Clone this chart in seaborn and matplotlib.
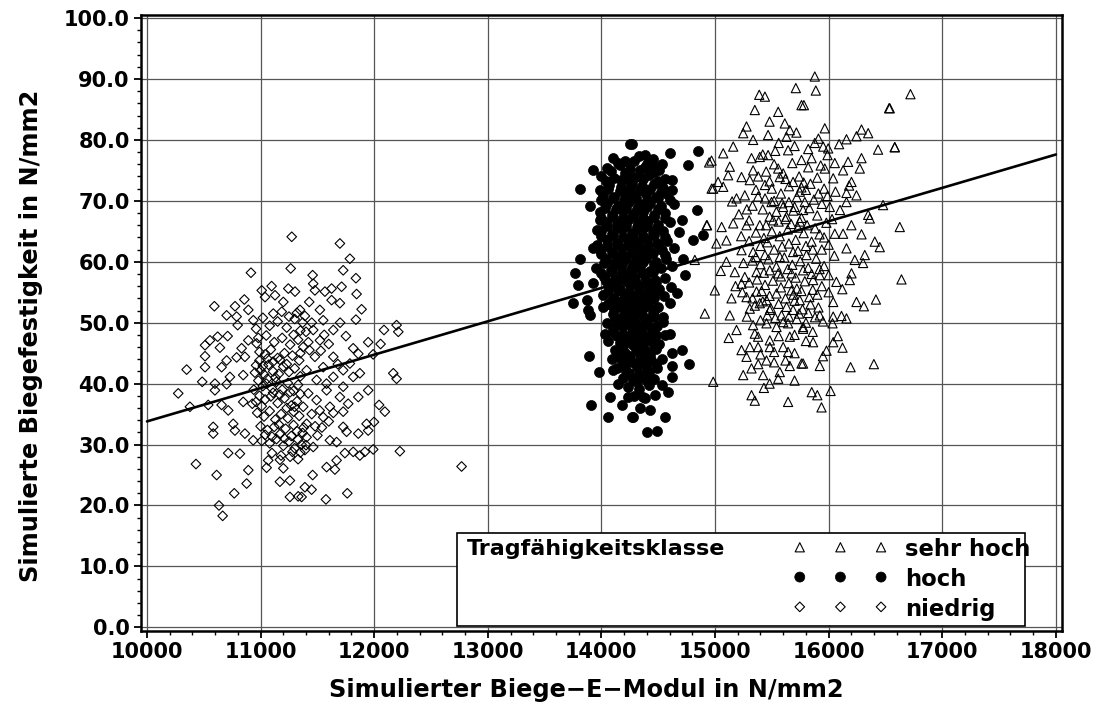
import matplotlib
matplotlib.use("Agg")
import matplotlib.pyplot as plt
from matplotlib.patches import Rectangle
from matplotlib.ticker import MultipleLocator, FormatStrFormatter
import seaborn as sns
import pandas as pd

# Simulated (E-modulus, bending strength) pairs per load class, N/mm2
niedrig_pts = [
    (11274, 64.1), (11265, 58.9), (10915, 58.2), (11097, 56.0), (11010, 55.3), (11244, 55.6), (11303, 55.1),
    (10593, 52.7), (10775, 52.7), (10857, 53.8), (10701, 51.2), (10892, 52.1), (10789, 51.0), (11039, 54.2),
    (11127, 54.5), (11200, 53.4), (11112, 51.5), (11186, 51.8), (10936, 50.4), (10798, 49.6), (11347, 52.1),
    (10511, 46.3), (10554, 47.1), (10622, 47.7), (10710, 47.8), (10642, 45.9), (10511, 44.5), (10511, 42.7),
    (10349, 42.3), (10657, 42.7), (10701, 43.8), (10789, 44.3), (10862, 44.4), (10833, 45.8), (10892, 47.1),
    (10965, 46.6), (10730, 41.1), (10847, 41.4), (10486, 40.3), (10598, 40.0), (10701, 39.9), (10275, 38.4),
    (10598, 38.9), (10378, 36.2), (10539, 36.5), (10657, 36.5), (10715, 35.6), (10847, 37.0), (10927, 36.7),
    (10583, 32.9), (10583, 31.8), (10759, 33.4), (10774, 32.3), (10862, 31.8), (10935, 30.7), (10715, 28.6),
    (10818, 28.5), (10431, 26.8), (10613, 25.0), (10892, 25.8), (10877, 23.6), (10768, 22.0), (10634, 20.0),
    (10666, 18.3), (11053, 26.2), (11067, 27.4), (11170, 27.5), (11200, 26.1), (11258, 24.1), (11258, 21.4),
    (11331, 21.5), (11170, 23.9),
    (11698, 63.0), (11786, 60.5), (11727, 58.6), (11458, 57.8), (11839, 57.3), (11713, 55.9), (11625, 55.6),
    (11845, 54.7), (11889, 52.2), (11839, 50.5), (12197, 49.6), (12212, 48.5), (12086, 48.8), (11947, 46.8),
    (12056, 46.5), (11991, 44.8), (12168, 41.7), (12197, 40.8), (11874, 41.7), (11947, 38.9), (12043, 36.5),
    (12094, 35.4), (11998, 33.7), (11933, 33.4), (11947, 32.3), (11860, 31.8), (11991, 29.2), (12226, 28.9),
    (12769, 26.4), (11918, 28.8), (11874, 28.2), (11815, 28.8), (11742, 28.6), (11669, 27.4), (11581, 26.3),
    (11654, 25.9), (11458, 25.0), (11390, 23.0), (11449, 22.6), (11763, 22.0), (11575, 21.0), (11361, 21.4),
    (11463, 56.4), (11478, 55.3), (11566, 55.1), (11625, 53.7), (11698, 53.2), (11428, 53.4), (11522, 52.1),
    (11390, 51.1), (11551, 50.4), (11463, 48.8), (11640, 48.8), (11751, 47.8), (11522, 47.1), (11815, 45.8),
    (11860, 44.9), (11375, 46.0), (11478, 44.4), (11640, 44.4), (11786, 43.3), (11551, 42.7), (11727, 42.2),
    (11405, 42.2), (11815, 41.1), (11640, 41.1), (11493, 40.6), (11727, 39.5), (11581, 38.9), (11419, 38.4),
    (11860, 37.8), (11698, 37.8), (11493, 37.3), (11771, 36.7), (11610, 36.2), (11375, 36.2), (11727, 35.4),
    (11551, 34.5), (11405, 33.4), (11727, 32.9), (11757, 32.1), (11610, 30.7), (11669, 30.4), (11405, 31.2),
    (11463, 29.6), (11390, 29.1),
    (10960, 49.0), (11020, 50.8), (11080, 49.5), (11150, 50.2), (11230, 49.2), (11300, 50.6), (11350, 48.7),
    (10980, 47.5), (11050, 47.9), (11120, 46.8), (11190, 47.5), (11260, 46.4), (11330, 47.2),
    (10990, 45.2), (11040, 44.8), (11090, 45.6), (11150, 44.2), (11210, 45.0), (11280, 44.6), (11340, 43.8),
    (10960, 43.0), (11000, 42.2), (11030, 41.5), (11070, 43.1), (11110, 42.0), (11160, 41.6), (11200, 42.8),
    (11250, 41.9), (11300, 42.5), (11350, 41.2),
    (10980, 40.5), (11020, 39.6), (11060, 40.8), (11100, 39.2), (11140, 40.3), (11190, 39.0), (11240, 40.1),
    (11290, 38.8), (11330, 39.8),
    (10990, 38.0), (11040, 37.4), (11090, 37.9), (11150, 36.8), (11210, 37.6), (11270, 36.4), (11320, 37.1),
    (10970, 35.2), (11030, 34.6), (11080, 35.5), (11130, 34.1), (11180, 35.0), (11240, 34.3), (11290, 35.4),
    (11340, 34.7),
    (11000, 33.0), (11060, 32.4), (11120, 32.9), (11170, 31.7), (11220, 32.6), (11270, 31.4), (11320, 32.2),
    (11370, 31.9),
    (11010, 30.6), (11080, 30.2), (11140, 30.9), (11200, 29.8), (11250, 30.5), (11300, 29.4), (11360, 30.0),
    (11100, 28.6), (11180, 28.2), (11280, 28.8), (11330, 27.6),
    (10950, 41.8), (10990, 43.8), (11020, 42.9), (11050, 40.0), (11060, 44.1), (11110, 43.6), (11130, 41.0),
    (11170, 43.9), (11230, 43.2), (11260, 38.6), (10940, 39.0), (10960, 37.0), (11010, 36.3), (11110, 38.5),
    (11170, 38.2), (11230, 36.0), (11300, 36.2), (11350, 38.3), (11290, 33.2), (11330, 30.8), (11380, 32.8),
    (11400, 29.9), (11350, 28.7), (11260, 28.0), (11210, 31.0), (11160, 33.3), (11100, 31.3), (11040, 31.6),
    (11250, 51.0), (11290, 48.0), (11320, 51.6), (11370, 50.0), (11400, 48.5), (11420, 46.8), (11350, 45.0),
    (11430, 45.5), (11450, 50.0), (11480, 33.0), (11520, 35.6), (11500, 31.5), (11540, 32.8), (11450, 35.0),
    (11600, 33.8), (11640, 35.2), (11580, 40.0), (11680, 43.2), (11530, 45.4), (11600, 46.5), (11700, 50.0),
    (11560, 48.0),
]

hoch_pts = [
    (14250, 79.4), (13928, 75.0), (13810, 71.9), (13986, 71.8), (13898, 69.1), (13986, 66.8), (13957, 65.2),
    (13928, 62.2), (13810, 60.5), (13766, 58.2), (13795, 56.2), (13928, 56.5), (13751, 53.2), (13869, 53.8),
    (13884, 52.1), (14016, 52.6), (13898, 51.2), (14030, 48.2), (13892, 44.5), (13980, 41.9), (14089, 44.1),
    (14103, 42.2), (14148, 40.0), (14074, 37.8), (13904, 36.5), (14177, 36.5), (14060, 34.6), (14265, 34.5),
    (14236, 37.8),
    (14265, 79.4), (14382, 77.5), (14602, 77.9), (14851, 78.2), (14763, 75.9), (14529, 76.1), (14441, 76.1),
    (14617, 73.4), (14617, 71.8), (14837, 68.5), (14705, 66.8), (14807, 63.5), (14895, 64.4), (14720, 60.5),
    (14734, 57.8), (14661, 54.8), (14602, 53.2), (14543, 50.1), (14602, 48.2), (14705, 45.5), (14772, 43.3),
    (14617, 42.9), (14617, 41.1), (14529, 39.7), (14588, 38.6), (14367, 37.8), (14558, 34.5), (14279, 34.5),
    (14397, 32.1), (14485, 32.3),
    (14100, 77.1), (14210, 76.6), (14330, 77.3), (14455, 76.8),
    (14050, 75.4), (14160, 75.8), (14255, 75.2), (14380, 75.6), (14505, 75.0),
    (14000, 74.1), (14115, 73.7), (14225, 74.3), (14305, 73.9), (14420, 74.2), (14560, 73.6),
    (14065, 72.6), (14170, 72.2), (14265, 72.8), (14355, 72.4), (14460, 72.7), (14540, 72.1),
    (14010, 71.0), (14110, 70.6), (14215, 71.3), (14290, 70.8), (14390, 71.2), (14480, 70.7), (14575, 71.1),
    (14050, 69.6), (14150, 69.2), (14240, 69.8), (14335, 69.4), (14430, 69.7), (14520, 69.1), (14640, 69.5),
    (13990, 68.1), (14090, 67.7), (14190, 68.3), (14280, 67.9), (14370, 68.2), (14465, 67.6), (14560, 68.0),
    (14040, 66.6), (14140, 66.2), (14230, 66.8), (14320, 66.4), (14410, 66.7), (14500, 66.1), (14600, 66.5),
    (14000, 65.0), (14090, 64.6), (14180, 65.3), (14270, 64.8), (14360, 65.2), (14450, 64.7), (14540, 65.1),
    (14680, 64.9),
    (14050, 63.5), (14140, 63.1), (14230, 63.7), (14310, 63.3), (14400, 63.6), (14490, 63.0), (14580, 63.4),
    (13990, 62.0), (14090, 61.6), (14180, 62.2), (14270, 61.8), (14350, 62.1), (14440, 61.5), (14530, 61.9),
    (14640, 62.3),
    (14040, 60.5), (14130, 60.1), (14220, 60.7), (14300, 60.3), (14390, 60.6), (14480, 60.0), (14570, 60.4),
    (13950, 59.0), (14080, 58.6), (14170, 59.2), (14260, 58.8), (14340, 59.1), (14430, 58.5), (14520, 58.9),
    (14620, 59.3),
    (14020, 57.5), (14120, 57.1), (14210, 57.7), (14290, 57.3), (14380, 57.6), (14470, 57.0), (14560, 57.4),
    (14070, 56.0), (14160, 55.6), (14250, 56.2), (14330, 55.8), (14420, 56.1), (14510, 55.5), (14610, 55.9),
    (14010, 54.5), (14110, 54.1), (14200, 54.7), (14280, 54.3), (14370, 54.6), (14460, 54.0), (14550, 54.4),
    (14060, 53.0), (14150, 52.6), (14240, 53.2), (14320, 52.8), (14410, 53.1), (14500, 52.5),
    (14100, 51.5), (14190, 51.1), (14270, 51.7), (14360, 51.3), (14450, 51.6), (14540, 51.0),
    (14050, 50.0), (14150, 49.6), (14230, 50.2), (14310, 49.8), (14400, 50.1), (14490, 49.5),
    (14100, 48.5), (14190, 48.1), (14280, 48.7), (14360, 48.3), (14450, 48.6), (14560, 48.0),
    (14060, 47.0), (14160, 46.6), (14240, 47.2), (14330, 46.8), (14420, 47.1), (14510, 46.5),
    (14120, 45.5), (14210, 45.1), (14300, 45.7), (14390, 45.3), (14480, 45.6), (14620, 45.0),
    (14170, 44.0), (14260, 43.6), (14350, 44.2), (14440, 43.8), (14530, 44.1),
    (14140, 42.5), (14220, 42.1), (14310, 42.7), (14400, 42.3), (14490, 42.6),
    (14190, 41.0), (14280, 40.6), (14370, 41.2), (14460, 40.8),
    (14230, 39.5), (14330, 39.1), (14420, 39.7),
    (14290, 38.0), (14380, 37.6), (14470, 38.2),
    (14340, 36.0), (14430, 35.6),
    (14150, 76.2), (14285, 76.5), (14400, 76.1),
    (14080, 74.9), (14205, 74.6), (14340, 75.0), (14460, 74.7),
    (14040, 73.2), (14170, 73.4), (14255, 73.1), (14370, 73.5), (14500, 73.2),
    (14060, 71.9), (14160, 71.6), (14250, 72.0), (14340, 71.7), (14430, 71.9), (14520, 71.5),
    (14000, 70.2), (14100, 70.4), (14200, 70.1), (14300, 70.5), (14400, 70.2), (14500, 70.4), (14600, 70.1),
    (14030, 68.8), (14130, 68.6), (14220, 68.9), (14310, 68.7), (14400, 69.0), (14500, 68.6),
    (14000, 67.2), (14100, 67.4), (14190, 67.1), (14280, 67.5), (14370, 67.2), (14460, 67.4), (14560, 67.1),
    (14050, 65.9), (14140, 65.6), (14220, 65.8), (14310, 65.7), (14400, 65.9), (14490, 65.6),
    (14000, 64.2), (14100, 64.4), (14190, 64.1), (14280, 64.5), (14370, 64.2), (14460, 64.4), (14560, 64.1),
    (13960, 62.8), (14050, 62.6), (14140, 62.9), (14230, 62.7), (14320, 62.9), (14410, 62.6), (14500, 62.8),
    (14000, 61.2), (14100, 61.4), (14180, 61.1), (14270, 61.5), (14360, 61.2), (14450, 61.4), (14560, 61.1),
    (14020, 59.8), (14110, 59.6), (14190, 59.9), (14280, 59.7), (14370, 59.9), (14460, 59.6),
    (14000, 58.2), (14090, 58.4), (14180, 58.1), (14270, 58.5), (14360, 58.2), (14450, 58.4),
    (14040, 56.8), (14140, 56.6), (14220, 56.9), (14300, 56.7), (14390, 56.9), (14480, 56.6),
    (14060, 55.2), (14150, 55.4), (14240, 55.1), (14330, 55.5), (14420, 55.2), (14500, 55.4),
    (14090, 53.8), (14180, 53.6), (14270, 53.9), (14350, 53.7), (14440, 53.9),
    (14110, 52.2), (14200, 52.4), (14290, 52.1), (14380, 52.5), (14470, 52.2),
    (14120, 50.8), (14210, 50.6), (14290, 50.9), (14380, 50.7), (14460, 50.9),
    (14100, 49.2), (14190, 49.4), (14270, 49.1), (14360, 49.5), (14440, 49.2),
    (14140, 47.8), (14230, 47.6), (14310, 47.9), (14400, 47.7), (14480, 47.9),
    (14190, 46.2), (14280, 46.4), (14370, 46.1), (14460, 46.4),
    (14160, 44.8), (14250, 44.6), (14340, 44.9), (14430, 44.7),
    (14210, 43.2), (14300, 43.4), (14390, 43.1), (14480, 43.3),
    (14240, 41.8), (14330, 41.6), (14420, 41.9),
    (14310, 40.2), (14400, 40.4),
]

sehr_hoch_pts = [
    (15389, 87.4), (15439, 87.1), (15711, 88.5), (15761, 85.7), (15556, 84.6), (15614, 82.7), (15277, 82.2),
    (15248, 81.1), (15467, 80.8), (15658, 81.6), (15716, 81.2), (15335, 80.0), (15629, 80.5), (15160, 78.9),
    (15072, 77.8), (14969, 76.6), (15321, 77.0), (15394, 77.2), (15467, 77.5), (15643, 78.3), (15761, 76.7),
    (15130, 75.6), (15233, 73.9), (15115, 74.2), (15027, 73.1), (14984, 72.0), (15072, 72.3), (15556, 75.3),
    (15335, 75.0), (15306, 73.4), (15439, 72.6), (15570, 73.9), (15687, 73.1), (15746, 71.5), (15189, 70.4),
    (15262, 70.9), (15379, 70.7), (15497, 69.8), (15599, 69.0), (15775, 68.5), (14926, 66.0), (15058, 65.7),
    (15160, 66.3), (15277, 66.0), (15394, 66.0), (15511, 66.8), (15629, 67.4), (15746, 66.6), (15012, 63.0),
    (15100, 63.5), (15233, 61.9), (15335, 61.6), (15439, 61.1), (15570, 60.8), (15687, 61.6), (15805, 61.1),
    (15174, 58.3), (15262, 57.5), (15365, 58.3), (15482, 58.6), (15556, 58.1), (15673, 58.1), (15775, 58.6),
    (14998, 55.3), (15145, 54.0), (15233, 56.4), (15277, 54.2), (15365, 55.1), (15453, 53.7), (15541, 54.8),
    (15673, 55.3), (15746, 53.7), (14910, 51.5), (15130, 51.2), (15306, 52.3), (15394, 53.2), (15482, 52.1),
    (15585, 51.2), (15687, 52.1), (15189, 48.8), (15335, 49.6), (15453, 49.9), (15541, 49.3), (15643, 49.9),
    (15775, 49.0), (15379, 47.7), (15482, 47.1), (15658, 47.7), (15233, 45.5), (15306, 46.0), (15379, 46.0),
    (15482, 46.0), (15643, 45.2), (15277, 44.4), (15453, 43.8), (15761, 43.3), (15658, 42.9), (15321, 42.5),
    (15248, 41.4), (15423, 41.4), (15570, 41.9), (15556, 40.8), (14984, 40.3), (15321, 38.1), (15643, 37.0),
    (15878, 90.4), (15887, 88.1), (15782, 85.7), (16532, 85.2), (15966, 81.9), (16289, 81.7), (16348, 81.1),
    (16245, 80.6), (16157, 80.1), (16092, 79.3), (15878, 79.5), (15952, 78.9), (15996, 78.6), (16435, 78.4),
    (16582, 78.8), (16289, 77.0), (16171, 76.4), (16054, 76.2), (16274, 75.3), (16127, 75.0), (15966, 75.3),
    (16201, 73.1), (16040, 73.7), (16157, 71.3), (16245, 70.9), (16157, 69.8), (16010, 69.0), (16479, 69.3),
    (16626, 65.7), (16348, 67.7), (16362, 67.1), (16054, 64.6), (16127, 64.6), (16289, 64.5), (16406, 63.3),
    (16450, 62.4), (16157, 62.2), (16230, 60.3), (16303, 59.8), (16318, 61.1), (16201, 58.1), (16068, 56.7),
    (16186, 57.0), (15922, 57.8), (15863, 57.0), (16245, 53.4), (16310, 52.7), (16416, 53.8), (16040, 53.4),
    (15922, 51.2), (16040, 51.0), (16113, 51.1), (16157, 50.7), (16034, 49.9), (15775, 49.3), (15863, 46.8),
    (16040, 46.8), (16122, 45.9), (15981, 45.4), (15775, 43.3), (15922, 42.9), (16193, 42.7), (16398, 43.2),
    (15851, 38.6), (15900, 38.1), (16017, 38.8), (15937, 36.1),
    (16720, 87.5), (16538, 85.2), (16582, 78.8), (16641, 57.1),
    (14948, 76.3), (14970, 72.0), (14930, 66.0), (14822, 60.3),
    (15520, 76.0), (15600, 74.5), (15680, 76.2), (15740, 74.0), (15820, 75.5), (15900, 73.8), (15960, 72.0),
    (15500, 72.0), (15580, 71.2), (15650, 72.4), (15720, 70.6), (15800, 71.8), (15870, 70.2), (15940, 69.5),
    (15420, 68.6), (15480, 67.4), (15540, 68.2), (15620, 67.0), (15690, 68.4), (15760, 67.2), (15830, 68.8),
    (15900, 67.6), (15980, 66.4),
    (15360, 64.8), (15430, 63.9), (15500, 65.0), (15570, 64.2), (15640, 65.3), (15710, 63.6), (15780, 64.7),
    (15850, 63.3), (15920, 64.5), (16000, 62.8),
    (15330, 60.2), (15400, 59.6), (15470, 60.4), (15540, 59.2), (15610, 60.7), (15680, 59.5), (15750, 60.1),
    (15820, 59.0), (15890, 60.5), (15960, 59.3),
    (15300, 56.6), (15370, 57.1), (15440, 56.2), (15510, 56.9), (15580, 55.8), (15650, 56.5), (15720, 55.6),
    (15790, 56.8), (15860, 55.4), (15940, 56.0),
    (15350, 52.8), (15420, 53.5), (15490, 52.4), (15560, 53.1), (15630, 52.6), (15700, 53.6), (15770, 52.2),
    (15840, 53.0), (15910, 52.5),
    (15400, 50.4), (15530, 50.8), (15600, 50.1), (15720, 50.6), (15800, 50.0), (15880, 50.9),
    (15460, 63.2), (15590, 62.5), (15730, 61.8), (15860, 62.0), (15520, 70.0), (15650, 69.8), (15780, 73.0),
    (15450, 74.8), (15360, 71.8), (15280, 68.6), (15210, 67.8), (15150, 69.9), (15230, 64.2), (15100, 60.0),
    (15180, 56.0), (15050, 58.5), (15120, 47.5), (15400, 44.8), (15520, 43.5), (15700, 45.0), (15860, 48.5),
    (15950, 44.5), (16080, 47.8), (16120, 55.5), (16200, 66.0), (16100, 68.5), (16060, 71.5), (16180, 72.5),
    (15990, 77.5), (15910, 80.2), (15820, 78.5), (15560, 79.5), (15480, 83.0), (15350, 84.9),
    (15420, 77.6), (15530, 78.2), (15700, 79.0), (15850, 77.0), (15930, 75.8),
    (15380, 74.0), (15480, 73.2), (15620, 73.6), (15760, 72.2), (15840, 72.8), (15990, 70.8),
    (15330, 69.2), (15440, 70.4), (15590, 69.6), (15700, 69.0), (15790, 69.8), (15910, 71.2), (16030, 67.0),
    (15300, 66.8), (15450, 66.0), (15560, 66.6), (15670, 66.2), (15730, 65.6), (15810, 66.0), (15880, 65.5),
    (15960, 64.0),
    (15300, 63.4), (15400, 62.6), (15520, 62.0), (15650, 63.0), (15800, 62.6), (15940, 62.0), (16050, 61.0),
    (15250, 59.8), (15360, 60.8), (15430, 58.2), (15580, 57.6), (15640, 58.8), (15710, 57.4), (15850, 58.0),
    (15920, 58.8), (16000, 57.8),
    (15240, 55.0), (15330, 54.0), (15410, 55.2), (15480, 54.4), (15620, 54.0), (15690, 54.6), (15760, 55.2),
    (15830, 54.2), (15900, 54.6), (16000, 55.0),
    (15280, 51.0), (15460, 51.2), (15650, 51.0), (15740, 51.5), (15820, 51.6), (15950, 50.2),
    (15350, 48.2), (15560, 47.8), (15700, 48.0), (15800, 47.0), (15600, 46.0), (15520, 45.2), (15380, 43.2),
    (15620, 43.8), (15480, 40.0), (15700, 40.5), (15350, 37.2), (15430, 39.3),
]

# Regression line end points (E-modulus, strength)
fit_x = [10000, 18000]
fit_y = [33.8, 77.6]

class_labels = ["sehr hoch", "hoch", "niedrig"]
legend_title = "Tragfähigkeitsklasse"
x_label = "Simulierter Biege\u2212E\u2212Modul in N/mm2"
y_label = "Simulierte Biegefestigkeit in N/mm2"


def frame(pts, label):
    return pd.DataFrame({"emod": [p[0] for p in pts],
                         "fest": [p[1] for p in pts],
                         "klasse": label})


df_sh = frame(sehr_hoch_pts, class_labels[0])
df_h = frame(hoch_pts, class_labels[1])
df_n = frame(niedrig_pts, class_labels[2])
df_fit = pd.DataFrame({"emod": fit_x, "fest": fit_y})

sns.set_style("ticks")
plt.rcParams["font.family"] = ["DejaVu Sans"]
plt.rcParams["font.weight"] = "bold"
plt.rcParams["axes.labelweight"] = "bold"
plt.rcParams["text.color"] = "black"
plt.rcParams["axes.labelcolor"] = "black"
plt.rcParams["xtick.color"] = "black"
plt.rcParams["ytick.color"] = "black"

fig = plt.figure(figsize=(10.97, 7.03), dpi=100)
ax = fig.add_axes([0.1285, 0.1024, 0.8395, 0.8763])

size_sh, size_h, size_n = 44, 52, 24

sns.scatterplot(data=df_sh, x="emod", y="fest", marker="^", s=size_sh,
                facecolors="none", edgecolor="black", linewidth=0.8,
                label=class_labels[0], ax=ax, zorder=3)
sns.scatterplot(data=df_h, x="emod", y="fest", marker="o", s=size_h,
                color="black", edgecolor="black", linewidth=0.5,
                label=class_labels[1], ax=ax, zorder=3)
sns.scatterplot(data=df_n, x="emod", y="fest", marker="D", s=size_n,
                facecolors="none", edgecolor="black", linewidth=0.8,
                label=class_labels[2], ax=ax, zorder=3)
sns.lineplot(data=df_fit, x="emod", y="fest", color="black", linewidth=1.9,
             ax=ax, zorder=4)

ax.set_xlim(9947, 18053)
ax.set_ylim(-0.6, 100.5)
ax.xaxis.set_major_locator(MultipleLocator(1000))
ax.xaxis.set_minor_locator(MultipleLocator(200))
ax.yaxis.set_major_locator(MultipleLocator(10))
ax.yaxis.set_minor_locator(MultipleLocator(2))
ax.yaxis.set_major_formatter(FormatStrFormatter("%.1f"))
ax.xaxis.set_major_formatter(FormatStrFormatter("%d"))

ax.set_axisbelow(True)
ax.grid(True, which="major", color="#555555", linewidth=0.9)
for sp in ax.spines.values():
    sp.set_visible(True)
    sp.set_linewidth(1.8)
    sp.set_color("black")

ax.tick_params(axis="both", which="major", direction="out", length=5, width=1.3,
               labelsize=15, color="black", labelcolor="black", pad=3)
ax.tick_params(axis="both", which="minor", direction="out", length=3, width=1.0,
               color="black")
for lab in ax.get_xticklabels() + ax.get_yticklabels():
    lab.set_fontweight("bold")

ax.set_xlabel(x_label, fontsize=17.3, fontweight="bold", color="black")
ax.set_ylabel(y_label, fontsize=17.3, fontweight="bold", color="black")
ax.xaxis.set_label_coords(0.484, -0.077)
ax.yaxis.set_label_coords(-0.106, 0.48)

# Legend: boxed panel with the class title on the left
box = Rectangle((0.343, 0.008), 0.617, 0.151, transform=ax.transAxes,
                facecolor="white", edgecolor="black", linewidth=1.2, zorder=5)
ax.add_patch(box)
ax.text(0.354, 0.133, legend_title, transform=ax.transAxes, ha="left", va="center",
        fontsize=16, fontweight="bold", color="black", zorder=6)

handles, labels = ax.get_legend_handles_labels()
order = [labels.index(c) for c in class_labels]
leg = ax.legend([handles[i] for i in order], [labels[i] for i in order],
                scatterpoints=3, scatteryoffsets=[0.55, 0.55, 0.55],
                loc="upper left", bbox_to_anchor=(0.708, 0.151),
                borderaxespad=0, borderpad=0, frameon=False, handlelength=4.19,
                handletextpad=0.77, labelspacing=0.3,
                prop={"size": 16.3, "weight": "bold"})
leg.set_zorder(7)
for h, sz in zip(leg.legend_handles, [size_sh, size_h, size_n]):
    h.set_sizes([sz, sz, sz])

fig.savefig("out.png", dpi=100)
